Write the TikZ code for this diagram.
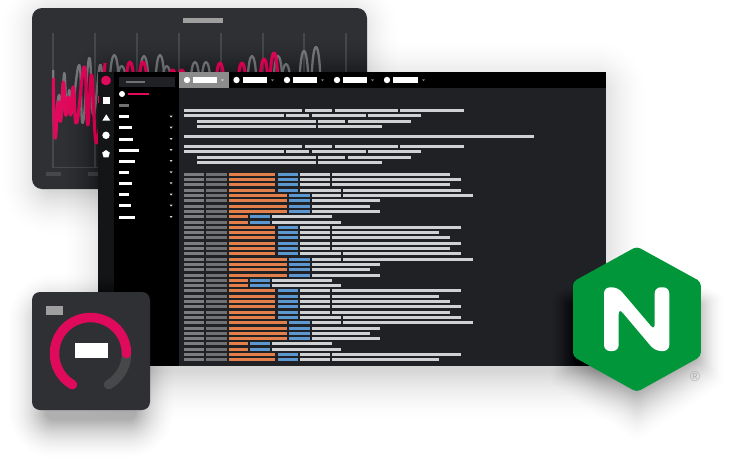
\documentclass[tikz,border=0pt]{standalone}
\usepackage{fontspec}
\setmainfont{Liberation Sans}
\definecolor{panelbg}{HTML}{2F3033}
\definecolor{winbg}{HTML}{202124}
\definecolor{iconbg}{HTML}{141517}
\definecolor{pinkc}{HTML}{E00A5C}
\definecolor{chartgray}{HTML}{77787A}
\definecolor{gridc}{HTML}{47484A}
\definecolor{grayA}{HTML}{7C7D7F}
\definecolor{grayB}{HTML}{707173}
\definecolor{orangec}{HTML}{E27F4A}
\definecolor{bluec}{HTML}{5C97CF}
\definecolor{lightc}{HTML}{D0D1D3}
\definecolor{greenc}{HTML}{009639}
\tikzset{
  grid line/.style={gridc,line width=1.3pt},
  pink curve/.style={pinkc,line width=3.1pt,line join=round},
  gray curve/.style={chartgray,line width=2.3pt,line join=round},
  shadow layer/.style={fill=black,fill opacity=#1,draw=none},
}
\newcommand{\softrect}[7]{% x1 y1 x2 y2 radius spread opacity
  \foreach \i in {0,1,...,39}{
    \pgfmathsetmacro{\off}{#6*(1-sqrt(1-\i/40))}
    \fill[shadow layer=#7,rounded corners={(#5+\off)*1pt}] ({#1-\off},{#2-\off}) rectangle ({#3+\off},{#4+\off});
  }}
\newcommand{\hb}[4]{\fill[#4] (#1,{#3-1.5}) rectangle (#2,{#3+1.5});}
\newcommand{\cols}{\hb{184}{204}{\yy}{grayA}\hb{206}{227}{\yy}{grayB}}
\newcommand{\rowS}[1]{\cols\hb{229}{275}{\yy}{orangec}\hb{278}{298}{\yy}{bluec}\hb{300}{330}{\yy}{lightc}\hb{332}{#1}{\yy}{lightc}}
\newcommand{\rowE}[1]{\cols\hb{229}{275}{\yy}{orangec}\hb{278}{298}{\yy}{bluec}\hb{300}{341}{\yy}{lightc}\hb{343}{#1}{\yy}{lightc}}
\newcommand{\rowL}[1]{\cols\hb{229}{287}{\yy}{orangec}\hb{289}{310}{\yy}{bluec}\hb{312}{341}{\yy}{lightc}\hb{343}{#1}{\yy}{lightc}}
\newcommand{\rowM}[1]{\cols\hb{229}{287}{\yy}{orangec}\hb{289}{310}{\yy}{bluec}\hb{312}{#1}{\yy}{lightc}}
\newcommand{\rowT}[1]{\cols\hb{229}{248}{\yy}{orangec}\hb{250}{270}{\yy}{bluec}\hb{272}{#1}{\yy}{lightc}}
\newcommand{\hump}[4]{% x peak halfwidth style
  \pgfmathsetmacro{\cy}{85+(#2-85)/0.75}
  \draw[#4] ({#1-#3},85) .. controls ({#1-#3*0.75},\cy) and ({#1+#3*0.75},\cy) .. ({#1+#3},85);}
\newcommand{\tabitem}[4]{% circle x, rect x1, rect x2, arrow x
  \fill[white] (#1,80) circle (3.2);
  \fill[white] (#2,77) rectangle (#3,83);
  \fill[#4] ({#3+4},79.3) -- ({#3+7},79.3) -- ({#3+5.5},81.3) -- cycle;}
\begin{document}
\begin{tikzpicture}[x=1pt,y=-1pt]
\useasboundingbox (0,0) rectangle (737,466);
\fill[white] (0,0) rectangle (737,466);

% back panel
\softrect{44}{20}{355}{192}{10}{50}{0.0038}
\fill[panelbg,rounded corners=10pt] (32,8) rectangle (367,189);
\fill[gray!75!white] (183,18) rectangle (223,23);
\foreach \gx in {53,95,137,179,221,263,304,346}{
  \draw[grid line] (\gx,33) -- (\gx,168);
}
\draw[grid line] (53,167.5) -- (110,167.5);
\fill[gridc] (46,171.7) rectangle (61,176);
\fill[gridc] (87.5,171.7) rectangle (102,176);
% chart, left part
\draw[gray curve] plot[smooth,tension=0.8] coordinates {(53.3,70) (54.3,125) (59,95) (61.7,115) (64.3,73) (66.7,112) (69.3,90) (71.7,113) (79.3,65) (82.7,123) (89.3,58) (93.3,115) (100,65) (103,95)};
\draw[pink curve] plot[smooth,tension=0.8] coordinates {(53.3,78) (55,138) (58.3,102) (60.7,121) (63.3,82) (65.7,115) (68.3,97) (70.7,115) (73.3,87) (76.7,123) (84.3,67) (87.7,125) (91.7,75) (96.7,143) (105,63)};
% chart, part above the window
\foreach \px/\py in {114.3/55,121.7/66,144/56,160/55,166.7/66,195/62,206/62,252/56,278/56,286/64,304/51,316/47}{
  \hump{\px}{\py}{4.6}{gray curve}
}
\foreach \px/\py in {130/62,143/62,172.7/70,181.7/70,220/63,242/63,264/59,274/53}{
  \hump{\px}{\py}{4}{pink curve}
}

% main window
\softrect{112}{88}{598}{372}{4}{56}{0.0044}
\fill[winbg] (98,72) rectangle (606,366);
\fill[iconbg] (98,72) rectangle (114,366);
\fill[black] (114,72) rectangle (179,366);
\fill[black] (179,72) rectangle (606,88);
\fill[pinkc] (97.6,96) rectangle (99,103);
\fill[gray!90!white] (179,72) rectangle (229,88);
% icons
\fill[pinkc,rounded corners=1pt] (106,80.5) +(90:5.2) -- +(30:5.2) -- +(-30:5.2) -- +(-90:5.2) -- +(-150:5.2) -- +(150:5.2) -- cycle;
\fill[white] (103,96.5) rectangle (110,103.5);
\fill[white] (106.3,114.3) -- (110.3,120.6) -- (102.4,120.6) -- cycle;
\fill[white] (106,135.3) circle (3.7);
\fill[white] (106,150) -- (109.8,152.7) -- (108.4,157.4) -- (103.6,157.4) -- (102.2,152.7) -- cycle;
% sidebar
\fill[winbg] (119,76.5) rectangle (175,86.5);
\fill[grayB] (126,80.5) rectangle (145,82.5);
\fill[white] (122,94) circle (3);
\fill[pinkc] (128,92.8) rectangle (149,95.2);
\fill[grayB] (119,103.5) rectangle (129,107);
\foreach \sy/\sx in {116.7/129,127.7/131.5,139/132.5,150/138.5,161/135,172.3/129,183.3/131.5,194.7/129,205.7/131,217/135}{
  \fill[white] (119,{\sy-1.5}) rectangle (\sx,{\sy+1.5});
  \fill[lightc] (169.6,{\sy-1}) -- (172.6,{\sy-1}) -- (171.1,{\sy+1}) -- cycle;
}
% tabs
\tabitem{187}{192.5}{217}{lightc}
\tabitem{236.5}{243}{267}{gray}
\tabitem{287}{293}{317}{gray}
\tabitem{337}{343}{367}{gray}
\tabitem{387}{393}{418}{gray}
% text-like lines
\foreach \oy in {0,36}{
  \hb{184}{302}{110.4+\oy}{lightc}\hb{304.5}{332}{110.4+\oy}{lightc}\hb{334.5}{398}{110.4+\oy}{lightc}\hb{400}{464}{110.4+\oy}{lightc}
  \hb{184}{284}{115.7+\oy}{lightc}\hb{286}{309}{115.7+\oy}{lightc}\hb{312}{366}{115.7+\oy}{lightc}\hb{368}{421}{115.7+\oy}{lightc}
  \hb{197}{315.5}{121+\oy}{lightc}\hb{318}{345}{121+\oy}{lightc}\hb{347.5}{411}{121+\oy}{lightc}
  \hb{197}{315.5}{126.3+\oy}{lightc}\hb{318}{381.5}{126.3+\oy}{lightc}
}
\hb{184}{534}{136.3}{lightc}
% table
\foreach \r/\t/\e in {0/\rowS/450,1/\rowS/461,2/\rowS/450,3/\rowE/461,4/\rowL/473,5/\rowM/380,6/\rowM/370,7/\rowM/380,8/\rowT/332,9/\rowT/341,
 10/\rowS/461,11/\rowS/439,12/\rowS/450,13/\rowS/461,14/\rowS/450,15/\rowE/461,16/\rowL/473,17/\rowM/380,18/\rowM/370,19/\rowM/380,20/\rowT/332,21/\rowT/341,
 22/\rowS/461,23/\rowS/439,24/\rowS/450,25/\rowS/461,26/\rowS/450,27/\rowE/461,28/\rowL/473,29/\rowM/380,30/\rowM/370,31/\rowM/380,32/\rowT/332,33/\rowT/341,
 34/\rowS/461,35/\rowS/439}{
  \pgfmathsetmacro{\yy}{174.3+5.3*\r}
  \t{\e}
}

% gauge
\softrect{46}{312}{136}{420}{8}{44}{0.0075}
\fill[panelbg,rounded corners=8pt] (32,292) rectangle (150,410);
\fill[gray!75!white] (46,306) rectangle (63,314.7);
\draw[gridc,line width=9.5pt,line cap=round] plot[smooth,domain=0:-60,samples=20] ({90.5+36*cos(\x)},{353.5-36*sin(\x)});
\draw[pinkc,line width=9.5pt,line cap=round] plot[smooth,domain=240:0,samples=50] ({90.5+36*cos(\x)},{353.5-36*sin(\x)});
\fill[white] (74.7,343.3) rectangle (107.7,357.7);

% hexagon
\foreach \i in {0,1,...,39}{
  \pgfmathsetmacro{\uu}{1-sqrt(1-\i/40)}
  \pgfmathsetmacro{\hx}{0.92+0.5*\uu}
  \pgfmathsetmacro{\hy}{1+0.8*\uu}
  \begin{scope}[shift={(637,320)},xscale=\hx,yscale=\hy]
    \fill[shadow layer=0.0065,rounded corners=4pt] (0,-40) -- (64,-15) -- (64,38) -- (0,72) -- (-64,38) -- (-64,-15) -- cycle;
  \end{scope}
}
\fill[greenc,rounded corners=4pt] (636.8,246.5) -- (700.8,281.7) -- (700.8,356.5) -- (636.8,392) -- (573,356.5) -- (573,281.7) -- cycle;
\fill[white,rounded corners=6pt] (604,351) -- (604,287.3) -- (618,287.3) -- (654.7,330.5) -- (654.7,287.3) -- (669.3,287.3) -- (669.3,351) -- (655,351) -- (618.7,308) -- (618.7,351) -- cycle;
\node[text=black!30,font=\fontsize{14}{16}\selectfont,inner sep=0pt] (reg) at (695,376.5) {®};
\end{tikzpicture}
\end{document}
